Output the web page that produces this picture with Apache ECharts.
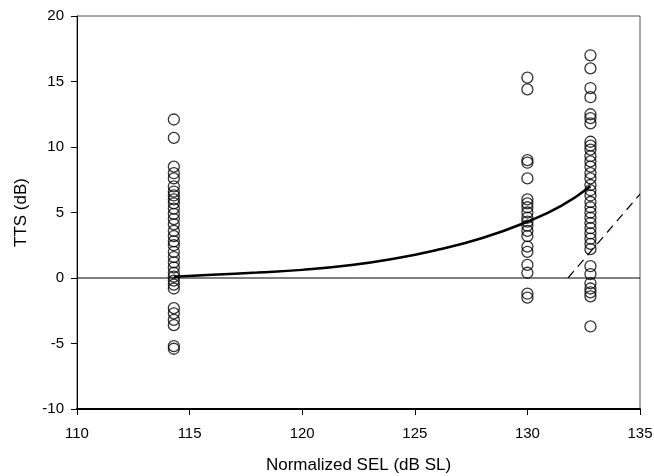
<!DOCTYPE html>
<html>
<head>
<meta charset="utf-8">
<script src="https://cdn.jsdelivr.net/npm/echarts@6/dist/echarts.min.js"></script>
<style>
  html, body { margin: 0; padding: 0; background: #fff; }
  #chart { width: 654px; height: 476px; }
</style>
</head>
<body>
<div id="chart"></div>
<script>
// Exposure levels (dB SL) for the three measurement groups
const selLevels = [114.3, 130.0, 132.8];

// Individual TTS measurements (dB) at each exposure level
const ttsGroup1 = [12.1, 10.7, 8.5, 8.0, 7.6, 7.0, 6.6, 6.3, 6.0, 5.7, 5.3, 4.9, 4.5, 4.1,
  3.6, 3.2, 2.8, 2.5, 2.0, 1.6, 1.2, 0.8, 0.4, 0.1, -0.2, -0.5, -0.8, -2.3, -2.7, -3.2,
  -3.6, -5.2, -5.4];
const ttsGroup2 = [15.3, 14.4, 9.0, 8.8, 7.6, 6.0, 5.7, 5.4, 5.0, 4.6, 4.3, 4.0, 3.6, 3.2,
  2.4, 2.0, 1.0, 0.4, -1.2, -1.5];
const ttsGroup3 = [17.0, 16.0, 14.5, 13.8, 12.5, 12.2, 11.8, 10.4, 10.1, 9.8, 9.3, 8.9, 8.5,
  8.0, 7.6, 7.1, 6.7, 6.3, 5.8, 5.4, 5.0, 4.6, 4.2, 3.8, 3.4, 3.0, 2.6, 2.2, 0.9, 0.3,
  -0.4, -0.8, -1.1, -1.4, -3.7];

// Fitted growth curve
const fitSel = [114.3, 116, 118, 120, 122, 124, 126, 128, 130, 131.5, 132.8];
const fitTts = [0.1, 0.25, 0.42, 0.62, 0.95, 1.45, 2.15, 3.05, 4.3, 5.5, 7.0];

// Reference growth line (dashed)
const refSel = [131.8, 135];
const refTts = [0.0, 6.4];

// Axis ticks
const xTicks = [110, 115, 120, 125, 130, 135];
const yTicks = [-10, -5, 0, 5, 10, 15, 20];

const scatterData = [];
[ttsGroup1, ttsGroup2, ttsGroup3].forEach((g, i) => {
  g.forEach(v => scatterData.push([selLevels[i], v]));
});

const font = 'Liberation Sans, Arial, sans-serif';
const chart = echarts.init(document.getElementById('chart'));
chart.setOption({
  animation: false,
  grid: {
    left: 77, right: 14, top: 16, bottom: 67,
    outerBoundsMode: 'none', containLabel: false,
    show: true, borderColor: '#555', borderWidth: 1, backgroundColor: 'transparent'
  },
  xAxis: {
    type: 'value', min: xTicks[0], max: xTicks[xTicks.length - 1], interval: 5,
    name: 'Normalized SEL (dB SL)', nameLocation: 'middle', nameGap: 48,
    nameTextStyle: { fontFamily: font, fontSize: 17, color: '#000' },
    axisLine: { show: true, onZero: false, lineStyle: { color: '#000', width: 2 } },
    axisTick: { show: true, inside: false, length: 6, lineStyle: { color: '#000' } },
    axisLabel: { fontFamily: font, fontSize: 15, color: '#000', margin: 17 },
    splitLine: { show: false }
  },
  yAxis: {
    type: 'value', min: yTicks[0], max: yTicks[yTicks.length - 1], interval: 5,
    name: 'TTS (dB)', nameLocation: 'middle', nameGap: 47, nameRotate: 90,
    nameTextStyle: { fontFamily: font, fontSize: 17, color: '#000' },
    axisLine: { show: true, onZero: false, lineStyle: { color: '#000', width: 1 } },
    axisTick: { show: true, inside: false, length: 6, lineStyle: { color: '#000' } },
    axisLabel: { fontFamily: font, fontSize: 15, color: '#000', margin: 13 },
    splitLine: { show: false }
  },
  series: [
    {
      type: 'line', data: [[xTicks[0], 0], [xTicks[xTicks.length - 1], 0]],
      symbol: 'none', lineStyle: { color: '#000', width: 1 }, z: 1
    },
    {
      type: 'scatter', data: scatterData, symbol: 'circle', symbolSize: 11,
      itemStyle: { color: 'rgba(255,255,255,0)', borderColor: '#000', borderWidth: 1.3 },
      z: 3
    },
    {
      type: 'line', data: fitSel.map((x, i) => [x, fitTts[i]]), smooth: true,
      symbol: 'none', lineStyle: { color: '#000', width: 2.5 }, z: 4
    },
    {
      type: 'line', data: refSel.map((x, i) => [x, refTts[i]]),
      symbol: 'none', lineStyle: { color: '#000', width: 1.2, type: [9, 6] }, z: 4
    }
  ]
});
</script>
</body>
</html>
